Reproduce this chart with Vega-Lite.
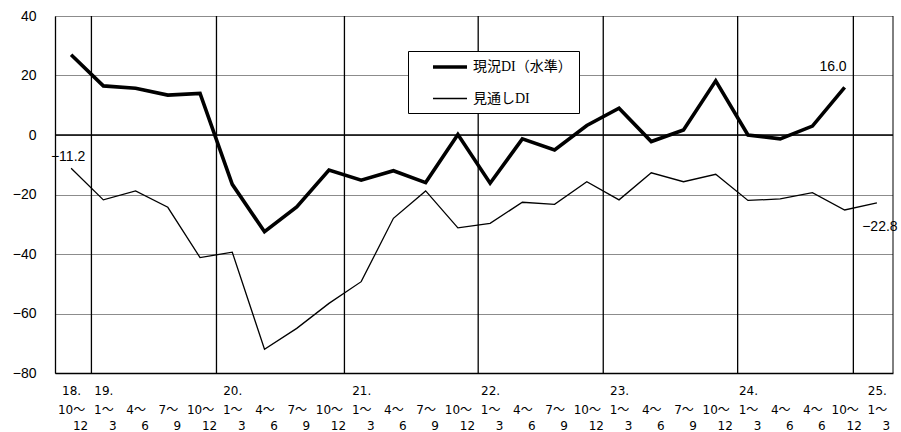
{
  "$schema": "https://vega.github.io/schema/vega-lite/v6.json",
  "width": 838,
  "height": 357,
  "autosize": "none",
  "padding": {"left": 55, "top": 16, "right": 8, "bottom": 59},
  "background": "white",
  "resolve": {"axis": {"x": "independent"}},
  "config": {
    "view": {"stroke": null},
    "axis": {"title": null},
    "axisX": {
      "orient": "bottom",
      "labelFont": "DejaVu Sans, Noto Sans CJK JP",
      "labelFontSize": 12,
      "labelColor": "black",
      "labelAngle": 0,
      "labelFlush": false,
      "labelBaseline": "middle",
      "ticks": false,
      "grid": false
    },
    "legend": {
      "orient": "none",
      "legendX": 353,
      "legendY": 35,
      "symbolType": "M-2.5,0H2.5",
      "symbolStrokeColor": "black",
      "symbolSize": 185,
      "symbolOffset": 26,
      "padding": 7,
      "rowPadding": 16,
      "labelOffset": 14,
      "labelFont": "Liberation Serif, Noto Sans CJK JP",
      "labelFontSize": 14,
      "labelColor": "black",
      "strokeColor": "black",
      "fillColor": "white"
    }
  },
  "datasets": {
    "series": [
      {"i": 0, "series": "現況DI（水準）", "value": 27.0},
      {"i": 1, "series": "現況DI（水準）", "value": 16.5},
      {"i": 2, "series": "現況DI（水準）", "value": 15.7},
      {"i": 3, "series": "現況DI（水準）", "value": 13.4},
      {"i": 4, "series": "現況DI（水準）", "value": 14.0},
      {"i": 5, "series": "現況DI（水準）", "value": -16.6},
      {"i": 6, "series": "現況DI（水準）", "value": -32.5},
      {"i": 7, "series": "現況DI（水準）", "value": -24.2},
      {"i": 8, "series": "現況DI（水準）", "value": -11.8},
      {"i": 9, "series": "現況DI（水準）", "value": -15.2},
      {"i": 10, "series": "現況DI（水準）", "value": -12.0},
      {"i": 11, "series": "現況DI（水準）", "value": -16.0},
      {"i": 12, "series": "現況DI（水準）", "value": 0.2},
      {"i": 13, "series": "現況DI（水準）", "value": -16.2},
      {"i": 14, "series": "現況DI（水準）", "value": -1.3},
      {"i": 15, "series": "現況DI（水準）", "value": -5.0},
      {"i": 16, "series": "現況DI（水準）", "value": 3.2},
      {"i": 17, "series": "現況DI（水準）", "value": 9.0},
      {"i": 18, "series": "現況DI（水準）", "value": -2.2},
      {"i": 19, "series": "現況DI（水準）", "value": 1.7},
      {"i": 20, "series": "現況DI（水準）", "value": 18.2},
      {"i": 21, "series": "現況DI（水準）", "value": 0.0},
      {"i": 22, "series": "現況DI（水準）", "value": -1.3},
      {"i": 23, "series": "現況DI（水準）", "value": 3.0},
      {"i": 24, "series": "現況DI（水準）", "value": 16.0},
      {"i": 0, "series": "見通しDI", "value": -11.2},
      {"i": 1, "series": "見通しDI", "value": -21.8},
      {"i": 2, "series": "見通しDI", "value": -18.8},
      {"i": 3, "series": "見通しDI", "value": -24.3},
      {"i": 4, "series": "見通しDI", "value": -41.2},
      {"i": 5, "series": "見通しDI", "value": -39.4},
      {"i": 6, "series": "見通しDI", "value": -72.0},
      {"i": 7, "series": "見通しDI", "value": -65.0},
      {"i": 8, "series": "見通しDI", "value": -56.6},
      {"i": 9, "series": "見通しDI", "value": -49.3},
      {"i": 10, "series": "見通しDI", "value": -28.0},
      {"i": 11, "series": "見通しDI", "value": -18.8},
      {"i": 12, "series": "見通しDI", "value": -31.2},
      {"i": 13, "series": "見通しDI", "value": -29.7},
      {"i": 14, "series": "見通しDI", "value": -22.6},
      {"i": 15, "series": "見通しDI", "value": -23.3},
      {"i": 16, "series": "見通しDI", "value": -15.7},
      {"i": 17, "series": "見通しDI", "value": -21.8},
      {"i": 18, "series": "見通しDI", "value": -12.7},
      {"i": 19, "series": "見通しDI", "value": -15.7},
      {"i": 20, "series": "見通しDI", "value": -13.2},
      {"i": 21, "series": "見通しDI", "value": -22.0},
      {"i": 22, "series": "見通しDI", "value": -21.5},
      {"i": 23, "series": "見通しDI", "value": -19.4},
      {"i": 24, "series": "見通しDI", "value": -25.2},
      {"i": 25, "series": "見通しDI", "value": -22.8}
    ],
    "yearlines": [
      {"x": 0.63}, {"x": 4.51}, {"x": 8.48}, {"x": 12.63}, {"x": 16.51}, {"x": 20.68}, {"x": 24.27}
    ]
  },
  "layer": [
    {
      "data": {"name": "series"},
      "mark": {"type": "line", "color": "black", "strokeJoin": "miter", "clip": false},
      "encoding": {
        "x": {
          "field": "i", "type": "quantitative",
          "scale": {"domain": [-0.5, 25.5], "nice": false, "zero": false},
          "axis": {
            "orient": "bottom",
            "title": null,
            "values": [0,1,2,3,4,5,6,7,8,9,10,11,12,13,14,15,16,17,18,19,20,21,22,23,24,25],
            "labelExpr": "['18.','19.','','','','20.','','','','21.','','','','22.','','','','23.','','','','24.','','','','25.'][datum.value]",
            "labelPadding": 17,
            "domain": true,
            "domainColor": "black",
            "domainWidth": 1.3
          }
        },
        "y": {
          "field": "value", "type": "quantitative",
          "scale": {"domain": [-80, 40], "nice": false, "zero": false},
          "axis": {
            "title": null,
            "values": [-80, -60, -40, -20, 0, 20, 40],
            "grid": true,
            "gridDash": [1, 1],
            "gridColor": "black",
            "gridOpacity": 0.9,
            "gridWidth": 1,
            "ticks": false,
            "domain": true,
            "domainColor": "black",
            "domainWidth": 1.3,
            "labelPadding": 19,
            "labelFont": "Liberation Sans",
            "labelFontSize": 14,
            "labelColor": "black"
          }
        },
        "detail": {"field": "series"},
        "strokeWidth": {
          "field": "series", "type": "nominal",
          "scale": {"domain": ["現況DI（水準）", "見通しDI"], "range": [3.6, 1.3]},
          "legend": {"title": null, "labelExpr": "datum.label + '\u00a0\u00a0\u00a0\u00a0\u00a0\u00a0'"}
        }
      }
    },
    {
      "data": {"name": "yearlines"},
      "mark": {"type": "rule", "color": "black", "strokeWidth": 1.3},
      "encoding": {
        "x": {
          "field": "x", "type": "quantitative",
          "axis": {
            "orient": "bottom",
            "title": null,
            "values": [0,1,2,3,4,5,6,7,8,9,10,11,12,13,14,15,16,17,18,19,20,21,22,23,24,25],
            "labelExpr": "['10〜','1〜','4〜','7〜','10〜','1〜','4〜','7〜','10〜','1〜','4〜','7〜','10〜','1〜','4〜','7〜','10〜','1〜','4〜','7〜','10〜','1〜','4〜','4〜','10〜','1〜'][datum.value]",
            "labelPadding": 36,
            "domain": false
          }
        }
      }
    },
    {
      "data": {"values": [{"v": 25.5}]},
      "mark": {"type": "rule", "color": "black", "strokeWidth": 1},
      "encoding": {
        "x": {
          "field": "v", "type": "quantitative",
          "axis": {
            "orient": "bottom",
            "title": null,
            "values": [0,1,2,3,4,5,6,7,8,9,10,11,12,13,14,15,16,17,18,19,20,21,22,23,24,25],
            "labelExpr": "['12','3','6','9','12','3','6','9','12','3','6','9','12','3','6','9','12','3','6','9','12','3','6','6','12','3'][datum.value]",
            "labelPadding": 52,
            "labelOffset": 9,
            "domain": false
          }
        }
      }
    },
    {
      "data": {"values": [{"v": 0}]},
      "mark": {"type": "rule", "color": "black", "strokeWidth": 1.5},
      "encoding": {
        "y": {"field": "v", "type": "quantitative"}
      }
    },
    {
      "data": {"name": "series"},
      "transform": [{"filter": "datum.series == '見通しDI' && datum.i == 0"}],
      "mark": {"type": "text", "font": "Liberation Sans", "fontSize": 14, "color": "black", "align": "center", "baseline": "middle", "dx": -3, "dy": -11},
      "encoding": {
        "x": {"field": "i", "type": "quantitative", "axis": null},
        "y": {"field": "value", "type": "quantitative"},
        "text": {"field": "value", "type": "quantitative", "format": ".1f"}
      }
    },
    {
      "data": {"name": "series"},
      "transform": [{"filter": "datum.series == '現況DI（水準）' && datum.i == 24"}],
      "mark": {"type": "text", "font": "Liberation Sans", "fontSize": 14, "color": "black", "align": "right", "baseline": "middle", "dx": 2, "dy": -20},
      "encoding": {
        "x": {"field": "i", "type": "quantitative", "axis": null},
        "y": {"field": "value", "type": "quantitative"},
        "text": {"field": "value", "type": "quantitative", "format": ".1f"}
      }
    },
    {
      "data": {"name": "series"},
      "transform": [{"filter": "datum.series == '見通しDI' && datum.i == 25"}],
      "mark": {"type": "text", "font": "Liberation Sans", "fontSize": 14, "color": "black", "align": "center", "baseline": "middle", "dx": 3, "dy": 24},
      "encoding": {
        "x": {"field": "i", "type": "quantitative", "axis": null},
        "y": {"field": "value", "type": "quantitative"},
        "text": {"field": "value", "type": "quantitative", "format": ".1f"}
      }
    }
  ]
}
